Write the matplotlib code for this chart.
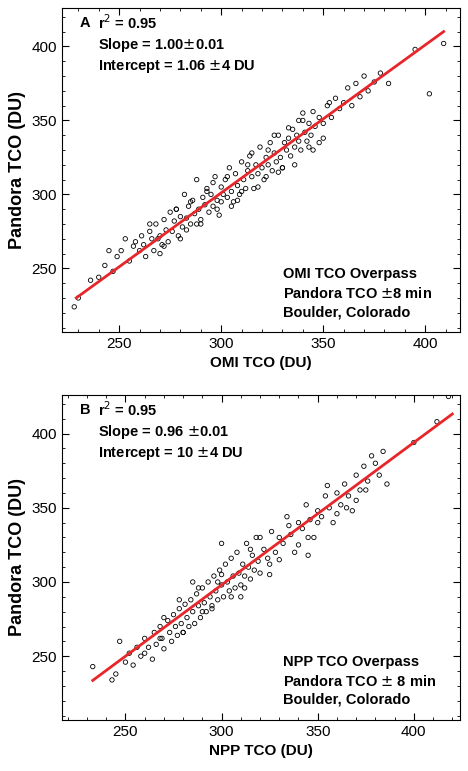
import matplotlib
matplotlib.use("Agg")
import matplotlib.pyplot as plt
from matplotlib.ticker import MultipleLocator
import numpy as np

plt.rcParams['font.family'] = ['Liberation Sans', 'DejaVu Sans']

# Panel A: OMI vs Pandora
omi_x = [228, 230, 236, 240, 243, 245, 247, 249, 251, 253, 255, 257, 258, 260, 261, 262, 263, 265,
         266, 267, 268, 269, 270, 271, 272, 273, 274, 275, 276, 277, 278, 279, 280, 281, 282, 283,
         284, 285, 286, 287, 288, 289, 290, 291, 292, 293, 294, 295, 296, 297, 298, 299, 300, 301,
         302, 303, 304, 305, 306, 307, 308, 309, 310, 311, 312, 313, 314, 315, 316, 317, 318, 319,
         320, 321, 322, 323, 324, 325, 326, 327, 328, 329, 330, 331, 332, 333, 334, 335, 336, 337,
         338, 339, 340, 341, 342, 343, 344, 345, 346, 348, 350, 352, 354, 356, 358, 360, 362, 364,
         366, 368, 370, 372, 375, 378, 382, 395, 402, 409,
         265, 272, 280, 285, 290, 296, 300, 305, 310, 315, 318, 322, 326, 330, 336, 340, 345, 350,
         283, 293, 303, 313, 323, 333, 343, 353, 270, 278, 288, 298, 308, 328, 338, 348]
omi_y = [224, 230, 242, 244, 252, 262, 248, 258, 262, 270, 255, 265, 268, 262, 272, 266, 258, 275,
         270, 262, 280, 270, 272, 266, 283, 276, 268, 288, 275, 282, 290, 272, 285, 278, 300, 284,
         292, 280, 296, 287, 310, 290, 283, 298, 293, 304, 288, 300, 292, 312, 296, 286, 305, 300,
         310, 298, 318, 302, 295, 314, 306, 300, 322, 310, 304, 316, 326, 312, 304, 320, 314, 332,
         318, 310, 325, 320, 335, 316, 328, 322, 340, 325, 318, 335, 330, 338, 326, 344, 332, 340,
         336, 330, 350, 342, 336, 348, 340, 356, 346, 352, 348, 360, 352, 365, 358, 362, 372, 360,
         375, 366, 380, 370, 376, 382, 375, 398, 368, 402,
         280, 265, 270, 295, 280, 308, 295, 292, 302, 328, 305, 312, 340, 318, 320, 355, 330, 338,
         276, 302, 312, 320, 330, 345, 332, 362, 260, 290, 280, 290, 296, 315, 350, 335]

# Panel B: NPP vs Pandora
npp_x = [233, 243, 245, 247, 250, 252, 254, 256, 258, 260, 262, 264, 265, 266, 268, 269, 270, 272,
         273, 274, 275, 276, 277, 278, 279, 280, 281, 282, 283, 284, 285, 286, 287, 288, 289, 290,
         291, 292, 293, 294, 295, 296, 297, 298, 299, 300, 301, 302, 303, 304, 305, 306, 307, 308,
         309, 310, 311, 312, 313, 314, 315, 316, 317, 318, 319, 320, 322, 324, 326, 328, 330, 332,
         334, 336, 338, 340, 342, 344, 346, 348, 350, 352, 354, 356, 358, 360, 362, 364, 366, 368,
         370, 372, 374, 376, 378, 380, 382, 384, 386, 400, 412, 418,
         260, 270, 280, 290, 300, 310, 320, 330, 340, 350, 360, 370, 285, 295, 305, 315, 325, 335,
         345, 355, 365, 375, 300, 312, 325, 345, 268, 278, 288, 298]
npp_y = [243, 234, 238, 260, 246, 252, 244, 256, 250, 262, 256, 248, 266, 258, 270, 262, 255, 274,
         266, 260, 278, 270, 264, 282, 272, 266, 285, 276, 270, 288, 280, 272, 292, 284, 276, 296,
         286, 280, 300, 290, 284, 304, 294, 288, 308, 298, 290, 312, 300, 294, 316, 304, 296, 320,
         306, 298, 312, 304, 326, 310, 302, 318, 308, 330, 314, 306, 322, 316, 334, 320, 330, 326,
         344, 332, 320, 340, 336, 352, 342, 330, 348, 344, 358, 350, 340, 360, 352, 366, 358, 348,
         372, 362, 378, 368, 385, 380, 372, 388, 366, 394, 408, 425,
         252, 276, 266, 280, 305, 290, 330, 315, 325, 340, 346, 355, 300, 282, 290, 322, 312, 338,
         330, 365, 350, 362, 326, 296, 305, 318, 262, 288, 296, 300]

panels = [
    ("A", omi_x, omi_y, 1.00, 1.06, 229, 409, "OMI TCO (DU)",
     "r$^2$ = 0.95\nSlope = 1.00$\\pm$0.01\nIntercept = 1.06 $\\pm$4 DU",
     "OMI TCO Overpass\nPandora TCO $\\pm$8 min\nBoulder, Colorado", (222, 417)),
    ("B", npp_x, npp_y, 0.96, 10.0, 233, 420, "NPP TCO (DU)",
     "r$^2$ = 0.95\nSlope = 0.96 $\\pm$0.01\nIntercept = 10 $\\pm$4 DU",
     "NPP TCO Overpass\nPandora TCO $\\pm$ 8 min\nBoulder, Colorado", (217, 424)),
]

fig = plt.figure(figsize=(4.68, 7.71), dpi=100)
boxes = [[62 / 468, 1 - 332 / 771, 398 / 468, 324 / 771],
         [62 / 468, 1 - 720 / 771, 398 / 468, 325 / 771]]

for box, (tag, xs, ys, slope, icpt, x0, x1, xlabel, stats, info, xlim) in zip(boxes, panels):
    ax = fig.add_axes(box)
    ax.scatter(xs, ys, s=10, facecolors='none', edgecolors='k', linewidths=0.6)
    lx = np.array([x0, x1])
    ax.plot(lx, slope * lx + icpt, color='#e8262a', lw=2)
    ax.set_xlim(*xlim)
    ax.set_ylim(207, 426)
    ax.xaxis.set_major_locator(MultipleLocator(50))
    ax.yaxis.set_major_locator(MultipleLocator(50))
    ax.xaxis.set_minor_locator(MultipleLocator(10))
    ax.yaxis.set_minor_locator(MultipleLocator(10))
    ax.tick_params(which='both', direction='in', top=True, right=True, labelsize=11)
    ax.tick_params(which='major', length=5)
    ax.tick_params(which='minor', length=2.5)
    ax.set_xlabel(xlabel, fontsize=11, fontweight='bold')
    ax.set_ylabel("Pandora TCO (DU)", fontsize=13, fontweight='bold')
    ax.text(0.045, 0.975, tag, transform=ax.transAxes, fontsize=10.5, fontweight='bold', va='top')
    ax.text(0.09, 0.985, stats, transform=ax.transAxes, fontsize=10.5, fontweight='bold',
            va='top', linespacing=1.35)
    ax.text(0.555, 0.04, info, transform=ax.transAxes, fontsize=10.5, fontweight='bold',
            va='bottom', linespacing=1.4)

fig.savefig("out.png", dpi=100)
